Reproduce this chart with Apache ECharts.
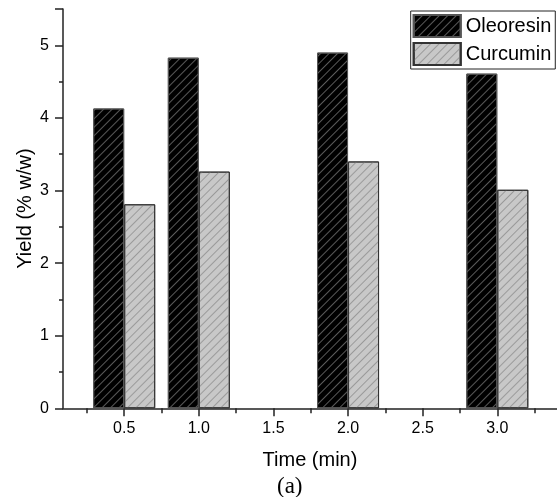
<!DOCTYPE html>
<html>
<head>
<meta charset="utf-8">
<script src="https://cdn.jsdelivr.net/npm/echarts@6/dist/echarts.min.js"></script>
<style>html,body{margin:0;padding:0;background:#fff}#c{width:557px;height:497px}</style>
</head>
<body>
<div id="c"></div>
<script>
var times = [0.5, 1.0, 2.0, 3.0];
var oleoresin = [4.13, 4.83, 4.90, 4.61];
var curcumin = [2.81, 3.26, 3.40, 3.01];
var xTickLabels = [0.5, 1.0, 1.5, 2.0, 2.5, 3.0];
var xMinorTicks = [0.25, 0.75, 1.25, 1.75, 2.25, 2.75, 3.25];

var chart = echarts.init(document.getElementById('c'), null, {renderer: 'canvas'});
var font = '"Liberation Sans", Arial, sans-serif';
function pairs(xs, ys) { return xs.map(function (x, i) { return [x, ys[i]]; }); }

chart.setOption({
  animation: false,
  backgroundColor: '#fff',
  textStyle: {fontFamily: font},
  grid: {left: 63, right: 0, top: 9, bottom: 88.7, containLabel: false, outerBoundsMode: 'none'},
  legend: {
    left: 410.7, top: 11,
    orient: 'vertical',
    icon: 'rect',
    itemWidth: 47, itemHeight: 22, itemGap: 4,
    padding: [3, 4, 3, 2],
    borderColor: '#222', borderWidth: 1,
    textStyle: {fontSize: 20, color: '#000', fontFamily: font},
    data: ['Oleoresin', 'Curcumin']
  },
  xAxis: [{
    type: 'value', min: 0.09, max: 3.4,
    name: 'Time (min)', nameLocation: 'middle', nameGap: 42, nameMoveOverlap: false,
    nameTextStyle: {fontSize: 20, color: '#000', fontFamily: font},
    axisLine: {show: true, lineStyle: {color: '#222', width: 1.5}},
    axisTick: {show: true, length: 8, lineStyle: {color: '#222', width: 1.5}, customValues: xTickLabels},
    axisLabel: {show: true, fontSize: 16, color: '#000', margin: 12, customValues: xTickLabels,
      formatter: function (v) { return Number(v).toFixed(1); }},
    splitLine: {show: false}
  }, {
    type: 'value', min: 0.09, max: 3.4, position: 'bottom',
    axisLine: {show: false},
    axisTick: {show: true, length: 5, lineStyle: {color: '#222', width: 1.5}, customValues: xMinorTicks},
    axisLabel: {show: false},
    splitLine: {show: false}
  }],
  yAxis: {
    type: 'value', min: 0, max: 5.5, interval: 1,
    name: 'Yield (% w/w)', nameLocation: 'middle', nameGap: 28, nameMoveOverlap: false,
    nameTextStyle: {fontSize: 20, color: '#000', fontFamily: font},
    axisLine: {show: true, lineStyle: {color: '#222', width: 1.5}},
    axisTick: {show: true, length: 8, lineStyle: {color: '#222', width: 1.5}},
    minorTick: {show: true, splitNumber: 2, length: 4, lineStyle: {color: '#222', width: 1.5}},
    axisLabel: {fontSize: 16, color: '#000', margin: 14, showMaxLabel: false},
    splitLine: {show: false}
  },
  graphic: [{
    type: 'text', left: 277, top: 475,
    style: {text: '(a)', font: '23px "Liberation Serif", "Times New Roman", serif', fill: '#000'}
  }],
  series: [{
    name: 'Oleoresin', type: 'bar', xAxisIndex: 0,
    barWidth: 31, barGap: '0%',
    data: pairs(times, oleoresin),
    itemStyle: {
      color: '#000', borderColor: '#555', borderWidth: 1,
      decal: {symbol: 'rect', symbolSize: 1, dashArrayX: [[1, 0]], dashArrayY: [1, 5], rotation: -Math.PI / 4, color: '#5a5a5a'}
    }
  }, {
    name: 'Curcumin', type: 'bar', xAxisIndex: 0,
    barWidth: 31, barGap: '0%',
    data: pairs(times, curcumin),
    itemStyle: {
      color: '#c8c8c8', borderColor: '#333', borderWidth: 1,
      decal: {symbol: 'rect', symbolSize: 1, dashArrayX: [[1, 0]], dashArrayY: [1, 5], rotation: -Math.PI / 4, color: '#9a9a9a'}
    }
  }]
});
</script>
</body>
</html>
